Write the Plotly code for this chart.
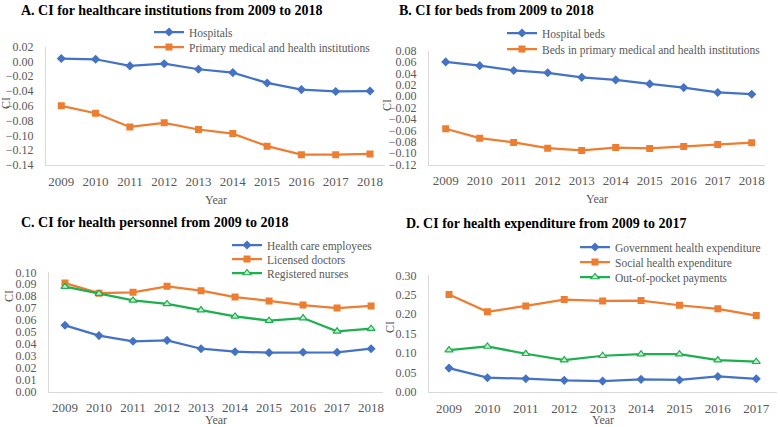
import plotly.graph_objects as go

W, H = 780, 427

# Panel A: healthcare institutions
years_a = [2009, 2010, 2011, 2012, 2013, 2014, 2015, 2016, 2017, 2018]
hospitals = [0.004, 0.003, -0.006, -0.003, -0.0105, -0.015, -0.029, -0.038, -0.0405, -0.040]
primary_inst = [-0.060, -0.070, -0.0885, -0.083, -0.092, -0.0975, -0.1145, -0.126, -0.126, -0.125]

# Panel B: beds
years_b = [2009, 2010, 2011, 2012, 2013, 2014, 2015, 2016, 2017, 2018]
hospital_beds = [0.060, 0.0535, 0.045, 0.041, 0.033, 0.0285, 0.0215, 0.015, 0.0065, 0.0035]
primary_beds = [-0.057, -0.0735, -0.081, -0.091, -0.095, -0.090, -0.0915, -0.088, -0.0845, -0.0815]

# Panel C: health personnel
years_c = [2009, 2010, 2011, 2012, 2013, 2014, 2015, 2016, 2017, 2018]
care_employees = [0.0556, 0.047, 0.0422, 0.043, 0.036, 0.0335, 0.0327, 0.033, 0.033, 0.036]
licensed_doctors = [0.091, 0.0825, 0.0832, 0.0883, 0.0846, 0.0793, 0.076, 0.0726, 0.0701, 0.0718]
registered_nurses = [0.088, 0.0821, 0.0765, 0.0735, 0.0684, 0.0631, 0.0595, 0.0617, 0.0506, 0.0528]

# Panel D: health expenditure
years_d = [2009, 2010, 2011, 2012, 2013, 2014, 2015, 2016, 2017]
gov_expenditure = [0.0615, 0.0368, 0.0342, 0.030, 0.028, 0.0325, 0.031, 0.040, 0.034]
social_expenditure = [0.2504, 0.206, 0.2214, 0.2376, 0.234, 0.235, 0.223, 0.2137, 0.1966]
out_of_pocket = [0.1077, 0.117, 0.0983, 0.082, 0.0932, 0.0974, 0.0974, 0.082, 0.0778]

BLUE = "#4472C4"
ORANGE = "#ED7D31"
GREEN = "#1DB04E"
GRAY = "#595959"
SERIF = "Liberation Serif"


def fx(px):
    return px / W


def fy(py):
    return 1 - py / H


def marker_for(kind, color):
    if kind == "diamond":
        return dict(symbol="diamond", size=7, color=color)
    if kind == "square":
        return dict(symbol="square", size=7, color=color)
    return dict(symbol="triangle-up", size=7, color="#C3EBCD", line=dict(color=color, width=1.2))


fig = go.Figure()

# one small legend per series so the rows can sit as close as in the original
series = [
    ("", years_a, hospitals, "Hospitals", BLUE, "diamond", "legend", (149, 32)),
    ("", years_a, primary_inst, "Primary medical and health institutions", ORANGE, "square", "legend2", (149, 47)),
    ("2", years_b, hospital_beds, "Hospital beds", BLUE, "diamond", "legend3", (502, 33)),
    ("2", years_b, primary_beds, "Beds in primary medical and health institutions", ORANGE, "square", "legend4", (502, 49)),
    ("3", years_c, care_employees, "Health care employees", BLUE, "diamond", "legend5", (227, 245)),
    ("3", years_c, licensed_doctors, "Licensed doctors", ORANGE, "square", "legend6", (227, 259)),
    ("3", years_c, registered_nurses, "Registered nurses", GREEN, "triangle", "legend7", (227, 273)),
    ("4", years_d, gov_expenditure, "Government health expenditure", BLUE, "diamond", "legend8", (575, 247)),
    ("4", years_d, social_expenditure, "Social health expenditure", ORANGE, "square", "legend9", (575, 262)),
    ("4", years_d, out_of_pocket, "Out-of-pocket payments", GREEN, "triangle", "legend10", (575, 277)),
]

for ax, xs, ys, name, color, mk, leg, pos in series:
    fig.add_trace(
        go.Scatter(
            x=xs,
            y=ys,
            name=name,
            mode="lines+markers",
            line=dict(color=color, width=2.25),
            marker=marker_for(mk, color),
            xaxis="x" + ax,
            yaxis="y" + ax,
            legend=leg,
            showlegend=True,
        )
    )
    fig.update_layout(
        {
            leg: dict(
                x=fx(pos[0]),
                y=fy(pos[1]),
                xanchor="left",
                yanchor="middle",
                bgcolor="rgba(0,0,0,0)",
                font=dict(family=SERIF, size=11.5, color=GRAY),
                borderwidth=0,
                visible=True,
            )
        }
    )

# (suffix, x domain px, x range, y domain px (top, bottom), y range, dtick)
panels = [
    ("", (46, 385), (2008.554, 2018.437), (46.7, 165), (-0.14, 0.02), 0.02, years_a),
    ("2", (429, 765), (2008.509, 2018.39), (50.5, 164.7), (-0.12, 0.08), 0.02, years_b),
    ("3", (49, 383), (2008.53, 2018.35), (272.3, 391.7), (0.0, 0.10), 0.01, years_c),
    ("4", (429, 777), (2008.479, 2017.54), (275.3, 392), (0.0, 0.30), 0.05, years_d),
]

axis_font = dict(family=SERIF, size=12, color=GRAY)
for sfx, xd, xr, yd, yr, dt, yrs in panels:
    fig.update_layout(
        {
            "xaxis" + sfx: dict(
                domain=[fx(xd[0]), fx(xd[1])],
                range=list(xr),
                anchor="y" + sfx,
                tickvals=yrs,
                ticktext=[str(y) for y in yrs],
                showgrid=False,
                zeroline=False,
                showline=True,
                linecolor="#D9D9D9",
                linewidth=1,
                ticks="",
                ticklabelstandoff=4,
                tickfont=dict(family=SERIF, size=13, color=GRAY),
            ),
            "yaxis" + sfx: dict(
                domain=[fy(yd[1]), fy(yd[0])],
                range=list(yr),
                anchor="x" + sfx,
                dtick=dt,
                tick0=0,
                tickformat=".2f",
                showgrid=False,
                zeroline=False,
                showline=True,
                linecolor="#D9D9D9",
                linewidth=1,
                ticks="",
                ticklabelstandoff=9,
                tickfont=axis_font,
            ),
        }
    )

annotations = []
titles = [
    ("A. CI for healthcare institutions from 2009 to 2018", 19, 10),
    ("B. CI for beds from 2009 to 2018", 397, 10),
    ("C. CI for health personnel from 2009 to 2018", 19, 222),
    ("D. CI for health expenditure from 2009 to 2017", 404, 223),
]
for text, px, py in titles:
    annotations.append(
        dict(
            text="<b>%s</b>" % text,
            x=fx(px),
            y=fy(py),
            xref="paper",
            yref="paper",
            xanchor="left",
            yanchor="middle",
            showarrow=False,
            font=dict(family=SERIF, size=14, color="black"),
        )
    )

# axis titles
for px, py in [(216, 200), (597, 199), (216, 420), (603, 420)]:
    annotations.append(
        dict(text="Year", x=fx(px), y=fy(py), xref="paper", yref="paper",
             xanchor="center", yanchor="middle",
             showarrow=False, font=axis_font)
    )
for px, py in [(6, 103), (387, 105), (9, 296), (390, 327)]:
    annotations.append(
        dict(text="CI", x=fx(px), y=fy(py), xref="paper", yref="paper",
             xanchor="center", yanchor="middle",
             showarrow=False, textangle=-90, font=axis_font)
    )

fig.update_layout(
    width=W,
    height=H,
    margin=dict(l=0, r=0, t=0, b=0, autoexpand=False),
    showlegend=True,
    paper_bgcolor="white",
    plot_bgcolor="white",
    annotations=annotations,
    font=dict(family=SERIF, color=GRAY),
)

# drop the page's default body margin so the figure sits at the window corner
fig.write_html(
    "out.html",
    config={"displayModeBar": False},
    post_script="document.body.style.margin='0';",
)
